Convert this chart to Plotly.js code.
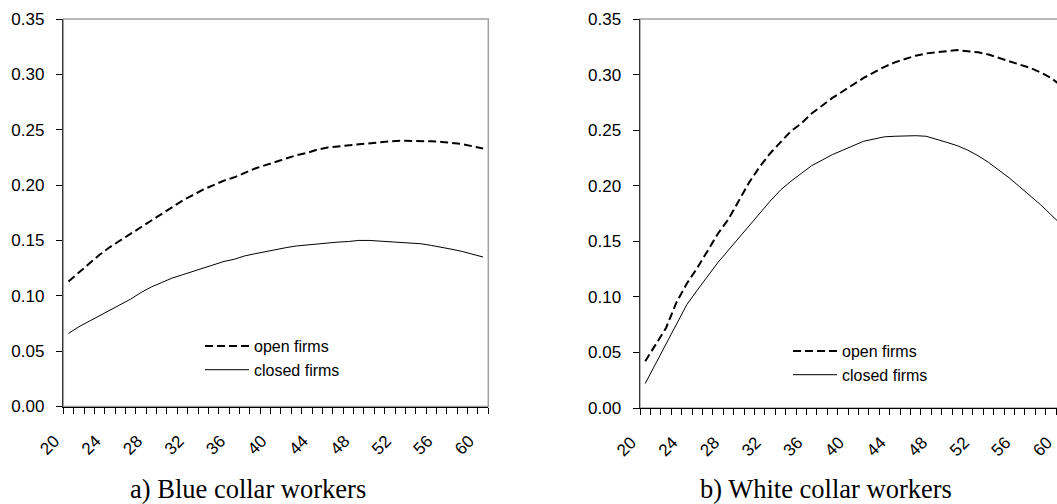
<!DOCTYPE html>
<html>
<head>
<meta charset="utf-8">
<script src="https://cdn.plot.ly/plotly-3.0.1.min.js"></script>
<style>
html, body { margin: 0; padding: 0; overflow: hidden; background: #fff; }
#chart { width: 1070px; height: 504px; }
</style>
</head>
<body>
<div id="chart"></div>
<script>
// Ages (categories)
const ages = [20,21,22,23,24,25,26,27,28,29,30,31,32,33,34,35,36,37,38,39,40,
              41,42,43,44,45,46,47,48,49,50,51,52,53,54,55,56,57,58,59,60];
const tickAges = [20,24,28,32,36,40,44,48,52,56,60];
const tickLabels = ["20","24","28","32","36","40","44","48","52","56","60"];

// a) Blue collar workers
const blueOpen = [0.113,0.121,0.129,0.137,0.144,0.150,0.156,0.162,0.168,0.174,0.180,
                  0.186,0.191,0.196,0.200,0.204,0.207,0.211,0.215,0.218,0.221,
                  0.224,0.227,0.229,0.232,0.234,0.235,0.236,0.237,0.238,0.239,
                  0.2395,0.240,0.240,0.240,0.2395,0.239,0.238,0.237,0.235,0.233];
const blueClosed = [0.066,0.072,0.077,0.082,0.087,0.092,0.097,0.103,0.108,0.112,0.116,
                    0.119,0.122,0.125,0.128,0.131,0.133,0.136,0.138,0.140,0.142,
                    0.1435,0.145,0.146,0.147,0.148,0.1485,0.149,0.150,0.150,0.1495,
                    0.149,0.148,0.1475,0.147,0.1455,0.144,0.142,0.140,0.1375,0.135];

// b) White collar workers
const whiteOpen = [0.042,0.057,0.072,0.095,0.112,0.126,0.142,0.157,0.170,0.186,0.203,
                   0.217,0.229,0.239,0.249,0.256,0.265,0.272,0.279,0.285,0.291,
                   0.297,0.302,0.307,0.311,0.314,0.317,0.319,0.320,0.321,0.322,
                   0.321,0.320,0.318,0.315,0.312,0.309,0.306,0.302,0.297,0.290];
const whiteClosed = [0.022,0.040,0.058,0.076,0.093,0.106,0.119,0.131,0.142,0.153,0.165,
                     0.176,0.186,0.196,0.204,0.211,0.218,0.223,0.228,0.232,0.236,
                     0.240,0.242,0.244,0.2445,0.245,0.245,0.2445,0.242,0.239,0.236,
                     0.232,0.227,0.221,0.214,0.207,0.199,0.191,0.183,0.174,0.165];

const seriesNames = ["open firms", "closed firms"];
const panelTitles = ["a) Blue collar workers", "b) White collar workers"];
const yTicks = [0, 0.05, 0.10, 0.15, 0.20, 0.25, 0.30, 0.35];

const W = 1070, H = 504;
const sans = "Arial, 'Liberation Sans', sans-serif";
const serif = "'Times New Roman', 'Liberation Serif', serif";

const dashStyle = {color: "#000", width: 2, dash: "8px,4px"};
const solidStyle = {color: "#000", width: 1};

const traces = [
  {x: ages, y: blueOpen, name: seriesNames[0], type: "scatter", mode: "lines",
   line: dashStyle, xaxis: "x", yaxis: "y", legend: "legend"},
  {x: ages, y: blueClosed, name: seriesNames[1], type: "scatter", mode: "lines",
   line: solidStyle, xaxis: "x", yaxis: "y", legend: "legend"},
  {x: ages, y: whiteOpen, name: seriesNames[0], type: "scatter", mode: "lines",
   line: dashStyle, xaxis: "x2", yaxis: "y2", legend: "legend2"},
  {x: ages, y: whiteClosed, name: seriesNames[1], type: "scatter", mode: "lines",
   line: solidStyle, xaxis: "x2", yaxis: "y2", legend: "legend2"}
];

const xdomL = [63.3 / W, 488.3 / W];
const xdomR = [640 / W, 1066.5 / W];
const ydomL = [1 - 406.5 / H, 1 - 19 / H];
const ydomR = [1 - 408 / H, 1 - 19 / H];
const xr = [19.5, 60.5];

function baseX(dom, anchor) {
  return {domain: dom, anchor: anchor, range: xr, tickmode: "array",
          tickvals: tickAges, ticktext: tickLabels, ticks: "", tickangle: -45,
          ticklabelstandoff: 17, ticklabelshift: -14,
          tickfont: {family: sans, size: 17, color: "#000"},
          minor: {tick0: 19.5, dtick: 1, ticks: "outside", ticklen: 6,
                  tickcolor: "#000", tickwidth: 1, showgrid: false},
          showline: true, linecolor: "#000", linewidth: 1,
          showgrid: false, zeroline: false, fixedrange: true};
}
function baseY(dom, anchor) {
  return {domain: dom, anchor: anchor, range: [0, 0.35], tickmode: "array",
          tickvals: yTicks, tickformat: ".2f", ticks: "outside", ticklen: 6,
          ticklabelstandoff: 8,
          tickcolor: "#000", tickwidth: 1, showline: true, linecolor: "#333", linewidth: 1.5,
          showgrid: false, zeroline: false, tickfont: {family: sans, size: 17, color: "#000"},
          fixedrange: true};
}

const layout = {
  width: W, height: H,
  margin: {l: 0, r: 0, t: 0, b: 0},
  paper_bgcolor: "#fff", plot_bgcolor: "#fff",
  font: {family: sans, color: "#000"},
  showlegend: true,
  xaxis: baseX(xdomL, "y"),
  xaxis2: baseX(xdomR, "y2"),
  yaxis: baseY(ydomL, "x"),
  yaxis2: baseY(ydomR, "x2"),
  legend: {x: 200 / W, y: 1 - 329 / H, xanchor: "left", yanchor: "top",
           bgcolor: "rgba(0,0,0,0)", font: {family: sans, size: 16, color: "#000"},
           tracegroupgap: 0, itemwidth: 44},
  legend2: {x: 788 / W, y: 1 - 334 / H, xanchor: "left", yanchor: "top",
            bgcolor: "rgba(0,0,0,0)", font: {family: sans, size: 16, color: "#000"},
            tracegroupgap: 0, itemwidth: 44},
  shapes: [
    {type: "rect", xref: "x domain", yref: "y domain", x0: 0, x1: 1, y0: 0, y1: 1,
     line: {color: "#a0a0a0", width: 1.5}, layer: "below"},
    {type: "rect", xref: "x2 domain", yref: "y2 domain", x0: 0, x1: 1, y0: 0, y1: 1,
     line: {color: "#a0a0a0", width: 1.5}, layer: "below"}
  ],
  annotations: [
    {text: panelTitles[0], xref: "paper", yref: "paper", x: 248 / W, y: 1 - 489 / H,
     xanchor: "center", yanchor: "middle", showarrow: false,
     font: {family: serif, size: 26.5, color: "#000"}},
    {text: panelTitles[1], xref: "paper", yref: "paper", x: 826 / W, y: 1 - 489 / H,
     xanchor: "center", yanchor: "middle", showarrow: false,
     font: {family: serif, size: 26.5, color: "#000"}}
  ]
};

Plotly.newPlot("chart", traces, layout, {staticPlot: true, displayModeBar: false});
</script>
</body>
</html>
